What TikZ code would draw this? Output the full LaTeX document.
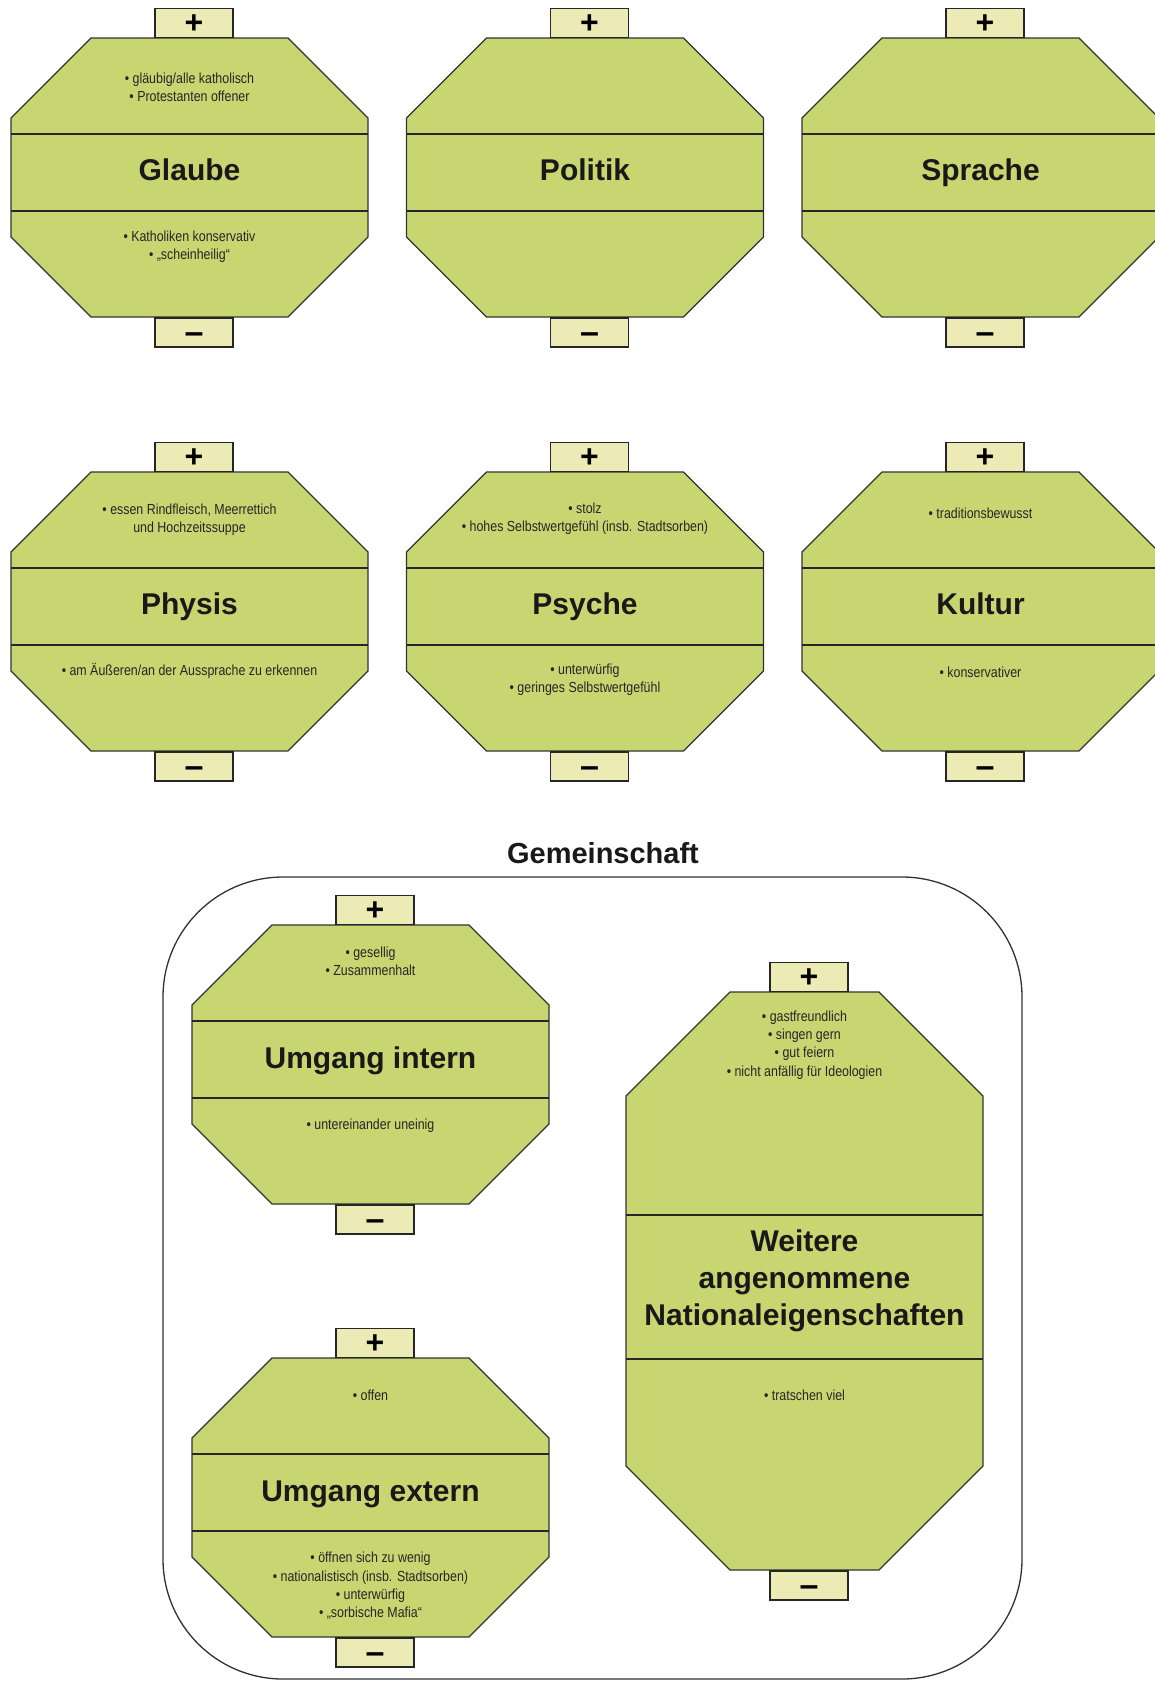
\documentclass[tikz,border=0pt]{standalone}
\usepackage{fontspec}
\setmainfont{Liberation Sans}
\newfontfamily\narrowf[FakeStretch=0.85]{Liberation Sans}
\definecolor{octgreen}{RGB}{200,214,114}
\definecolor{boxyellow}{RGB}{237,235,181}
\definecolor{edgegray}{RGB}{50,50,50}
\tikzset{
 octo/.style={fill=octgreen, draw=edgegray, line width=1.2pt, line join=miter},
 bandline/.style={draw=black!85, line width=1.5pt},
 pmbox/.style={draw=black!85, fill=boxyellow, line width=1.5pt, minimum width=78pt, minimum height=29pt, inner sep=0pt},
 titletext/.style={font=\fontsize{30}{37}\selectfont\bfseries, text=black!90, align=center, inner sep=0pt},
 itemtext/.style={font=\narrowf\fontsize{14.6}{18.4}\selectfont, text=black!85, align=center, inner sep=0pt},
 grouptitle/.style={font=\fontsize{29}{34}\selectfont\bfseries, text=black!90, inner sep=0pt},
 groupframe/.style={draw=edgegray, line width=1.3pt, rounded corners=120pt}
}
% #1 name, #2 left, #3 top, #4 height, #5 chamfer, #6 band top, #7 band bottom
\newcommand{\octbox}[7]{%
  \begin{scope}[shift={(#2,#3)}]
    \draw[octo] (#5,0) -- ({357-#5},0) -- (357,#5) -- (357,{#4-#5}) -- ({357-#5},#4) -- (#5,#4) -- (0,{#4-#5}) -- (0,#5) -- cycle;
    \draw[bandline] (0,#6) -- (357,#6);
    \draw[bandline] (0,#7) -- (357,#7);
    \node[pmbox, anchor=south] (#1-plus) at (183,0) {\raisebox{-10.5pt}[0pt][0pt]{\fontsize{32}{32}\selectfont\bfseries +}};
    \node[pmbox, anchor=north] (#1-minus) at (183,#4) {\raisebox{-11pt}[0pt][0pt]{\fontsize{34}{34}\selectfont\bfseries –}};
  \end{scope}}
\begin{document}
\begin{tikzpicture}[x=1pt,y=-1pt]
\useasboundingbox (0,0) rectangle (1155,1682);
\clip (0,0) rectangle (1155,1682);
\fill[white] (0,0) rectangle (1155,1682);

% Row 1
\octbox{gl}{11}{38}{279}{80}{96}{173}
\octbox{po}{406.5}{38}{279}{80}{96}{173}
\octbox{sp}{802}{38}{279}{80}{96}{173}
% Row 2
\octbox{ph}{11}{472}{279}{80}{96}{173}
\octbox{ps}{406.5}{472}{279}{80}{96}{173}
\octbox{ku}{802}{472}{279}{80}{96}{173}

% Gemeinschaft frame
\node[grouptitle, anchor=base] (gemtitle) at (603,863) {Gemeinschaft};
\draw[groupframe] (163,877) rectangle (1022,1679);

\octbox{ui}{192}{925}{279}{80}{96}{173}
\octbox{ue}{192}{1358}{279}{80}{96}{173}
\octbox{wn}{626}{992}{578}{104}{223}{367}

% Titles
\node[titletext, anchor=base] (t-gl) at (189.5,180.5) {Glaube};
\node[titletext, anchor=base] (t-po) at (585,180.5) {Politik};
\node[titletext, anchor=base] (t-sp) at (980.5,180.5) {Sprache};
\node[titletext, anchor=base] (t-ph) at (189.5,614.5) {Physis};
\node[titletext, anchor=base] (t-ps) at (585,614.5) {Psyche};
\node[titletext, anchor=base] (t-ku) at (980.5,614.5) {Kultur};
\node[titletext, anchor=base] (t-ui) at (370.5,1068) {Umgang intern};
\node[titletext, anchor=base] (t-ue) at (370.5,1501.5) {Umgang extern};
\node[titletext] (t-wn) at (804.5,1281) {Weitere\\angenommene\\Nationaleigenschaften};

% Items
\node[itemtext] (gl-pos) at (189.5,87) {• gläubig/alle katholisch\\• Protestanten offener};
\node[itemtext] (gl-neg) at (189.5,247) {• Katholiken konservativ\\• „scheinheilig“};
\node[itemtext] (ph-pos) at (189.5,520) {• essen Rindfleisch, Meerrettich\\und Hochzeitssuppe};
\node[itemtext] (ph-neg) at (189.5,671) {• am Äußeren/an der Aussprache zu erkennen};
\node[itemtext] (ps-pos) at (585,519) {• stolz\\• hohes Selbstwertgefühl (insb. Stadtsorben)};
\node[itemtext] (ps-neg) at (585,680) {• unterwürfig\\• geringes Selbstwertgefühl};
\node[itemtext] (ku-pos) at (980.5,513) {• traditionsbewusst};
\node[itemtext] (ku-neg) at (980.5,672) {• konservativer};
\node[itemtext] (ui-pos) at (370.5,961) {• gesellig\\• Zusammenhalt};
\node[itemtext] (ui-neg) at (370.5,1126) {• untereinander uneinig};
\node[itemtext] (ue-pos) at (370.5,1395) {• offen};
\node[itemtext] (ue-neg) at (370.5,1586) {• öffnen sich zu wenig\\• nationalistisch (insb. Stadtsorben)\\• unterwürfig\\• „sorbische Mafia“};
\node[itemtext] (wn-pos) at (804.5,1045) {• gastfreundlich\\• singen gern\\• gut feiern\\• nicht anfällig für Ideologien};
\node[itemtext] (wn-neg) at (804.5,1395) {• tratschen viel};
\end{tikzpicture}
\end{document}
